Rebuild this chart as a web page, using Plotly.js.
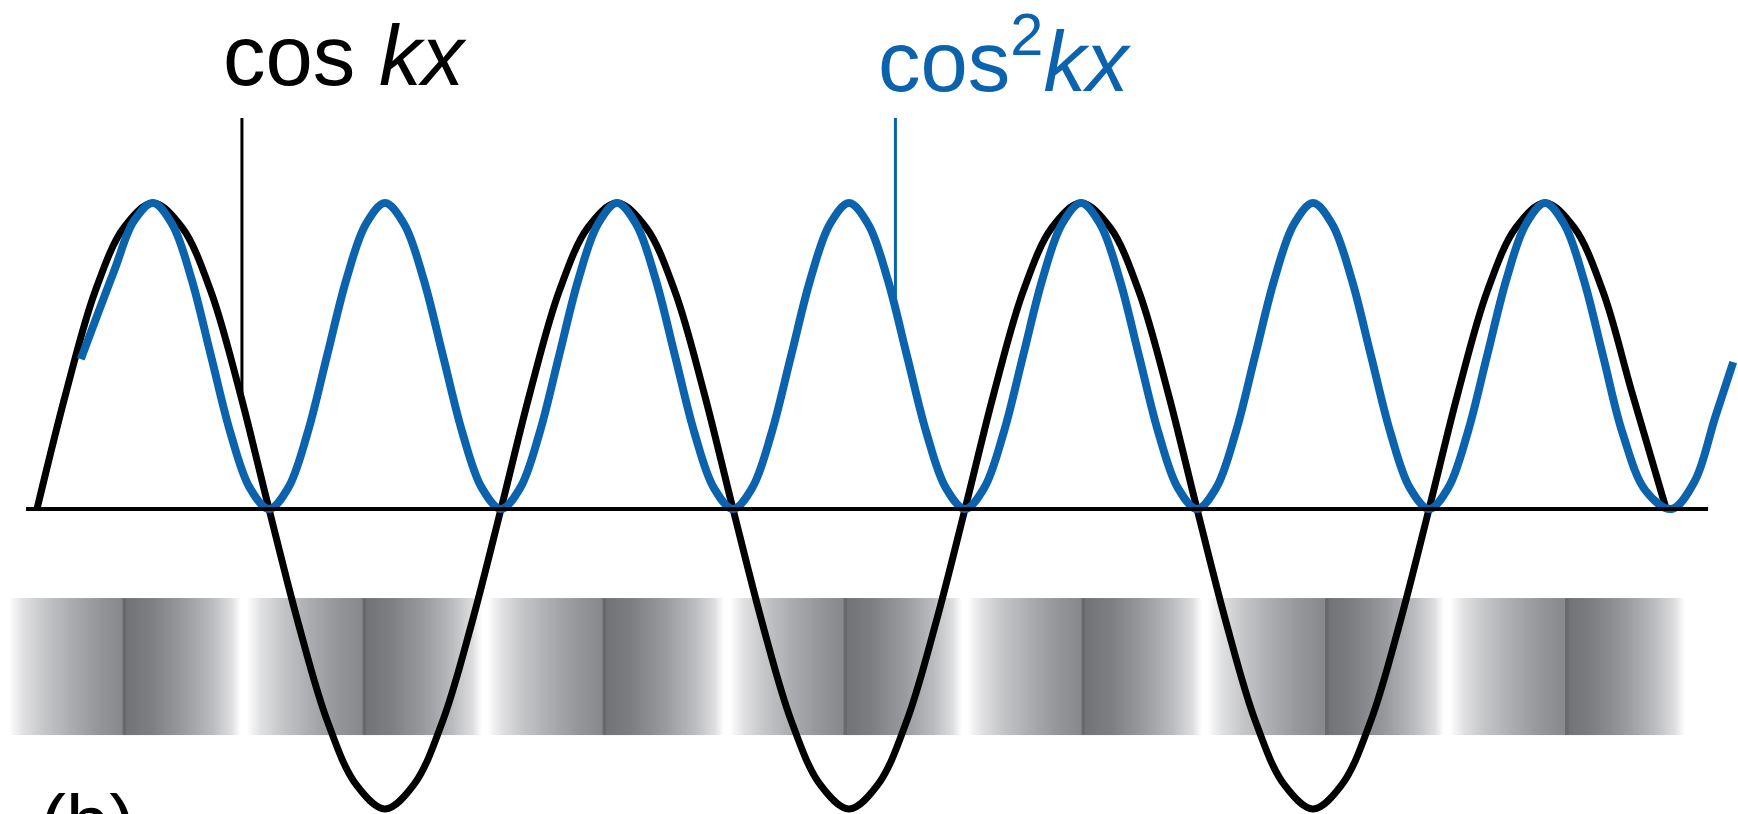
<!DOCTYPE html>
<html>
<head>
<meta charset="utf-8">
<script src="https://cdn.plot.ly/plotly-3.0.1.min.js"></script>
<style>
  html, body { margin: 0; padding: 0; background: #ffffff; }
  #chart { width: 1738px; height: 814px; }
</style>
</head>
<body>
<div id="chart"></div>
<script>
// ---- data (phase kx in degrees, amplitude in units of the cos peak) ----
const cosX = [
  -90, -67.5, -45, -22.5, 0, 22.5, 45, 67.5, 90, 112.5, 135, 157.5, 180, 202.5, 225, 247.5,
  270, 292.5, 315, 337.5, 360, 382.5, 405, 427.5, 450, 472.5, 495, 517.5, 540, 562.5, 585, 607.5,
  630, 652.5, 675, 697.5, 720, 742.5, 765, 787.5, 810, 832.5, 855, 877.5, 900, 922.5, 945, 967.5,
  990, 1012.5, 1035, 1057.5, 1080, 1102.5, 1125, 1147.5, 1174];
const cosY = [
  0, 0.38, 0.71, 0.92, 1, 0.92, 0.71, 0.38, 0, -0.37, -0.69, -0.9, -0.98, -0.9, -0.69, -0.37,
  0, 0.38, 0.71, 0.92, 1, 0.92, 0.71, 0.38, 0, -0.37, -0.69, -0.9, -0.98, -0.9, -0.69, -0.37,
  0, 0.38, 0.71, 0.92, 1, 0.92, 0.71, 0.38, 0, -0.37, -0.69, -0.9, -0.98, -0.9, -0.69, -0.37,
  0, 0.38, 0.71, 0.92, 1, 0.92, 0.71, 0.38, 0];

const cos2X = [-56, -30, -15,
  0, 15, 30, 45, 60, 75, 90, 105, 120, 135, 150, 165,
  180, 195, 210, 225, 240, 255, 270, 285, 300, 315, 330, 345,
  360, 375, 390, 405, 420, 435, 450, 465, 480, 495, 510, 525,
  540, 555, 570, 585, 600, 615, 630, 645, 660, 675, 690, 705,
  720, 735, 750, 765, 780, 795, 810, 825, 840, 855, 870, 885,
  900, 915, 930, 945, 960, 975, 990, 1005, 1020, 1035, 1050, 1065,
  1080, 1095, 1110, 1125, 1140,
  1158, 1178, 1196, 1212, 1226];
const cos2Y = [0.49, 0.78, 0.94,
  1, 0.93, 0.75, 0.5, 0.25, 0.07, 0, 0.07, 0.25, 0.5, 0.75, 0.93,
  1, 0.93, 0.75, 0.5, 0.25, 0.07, 0, 0.07, 0.25, 0.5, 0.75, 0.93,
  1, 0.93, 0.75, 0.5, 0.25, 0.07, 0, 0.07, 0.25, 0.5, 0.75, 0.93,
  1, 0.93, 0.75, 0.5, 0.25, 0.07, 0, 0.07, 0.25, 0.5, 0.75, 0.93,
  1, 0.93, 0.75, 0.5, 0.25, 0.07, 0, 0.07, 0.25, 0.5, 0.75, 0.93,
  1, 0.93, 0.75, 0.5, 0.25, 0.07, 0, 0.07, 0.25, 0.5, 0.75, 0.93,
  1, 0.93, 0.75, 0.5, 0.25,
  0.06, 0, 0.09, 0.3, 0.48];

// intensity band: white gaps and dark edges (kx degrees)
const bandWhites = [-114, 69.8, 256.8, 444.6, 629.2, 815.4, 1003.2, 1189.4];
const bandDarks  = [-22.5, 163.7, 349.9, 536.9, 721.5, 910.1, 1096.3];
// shading profile (0 = white, 1 = darkest) read along one lobe
const riseFrac  = [0.12, 0.3, 0.55, 0.8];
const riseShade = [0.2, 0.38, 0.56, 0.71];
const edgeShade = [0.79, 1.0, 1.0, 0.93];
const fallFrac  = [0.2, 0.5, 0.75, 0.92];
const fallShade = [0.86, 0.67, 0.45, 0.22];

// labels
const labelCos  = 'cos <i>kx</i>';
const labelCos2 = 'cos<sup>2</sup><i>kx</i>';
const labelPanel = '(b)';

// ---- build band table ----
const PX = 1 / 1.2889;        // degrees per screen pixel
const bx = [], bz = [];
function push(x, z) { bx.push(x); bz.push(z); }
for (let i = 0; i < bandDarks.length; i++) {
  const W0 = bandWhites[i], D = bandDarks[i], W1 = bandWhites[i + 1];
  if (i === 0) { push(W0, 0); push(W0 + 2 * PX, 0); }
  else { push(W0 + 3 * PX, 0); }
  const r0 = W0 + 3 * PX, r1 = D - 2.5 * PX;
  riseFrac.forEach((f, k) => push(r0 + f * (r1 - r0), riseShade[k]));
  push(D - 2.5 * PX, edgeShade[0]);
  push(D - 1 * PX, edgeShade[1]);
  push(D + 1 * PX, edgeShade[2]);
  push(D + 2.5 * PX, edgeShade[3]);
  const f0 = D + 2.5 * PX, f1 = W1 - 3 * PX;
  fallFrac.forEach((f, k) => push(f0 + f * (f1 - f0), fallShade[k]));
  if (i === bandDarks.length - 1) { push(W1 - 2 * PX, 0); push(W1, 0); }
  else { push(W1 - 3 * PX, 0); }
}

const bandBottom = -0.739, bandTop = -0.291;

const traces = [
  {
    type: 'heatmap',
    x: bx,
    y: [bandBottom, (bandBottom + bandTop) / 2, bandTop],
    z: [bz, bz],
    zmin: 0, zmax: 1,
    zsmooth: 'best',
    colorscale: [[0, '#ffffff'], [0.5, '#b4b5b8'], [1, '#68696d']],
    showscale: false,
    hoverinfo: 'skip'
  },
  {
    type: 'scatter', mode: 'lines',
    x: cosX, y: cosY,
    line: { color: '#000000', width: 7, shape: 'spline', smoothing: 1, simplify: false },
    hoverinfo: 'skip'
  },
  {
    type: 'scatter', mode: 'lines',
    x: cos2X, y: cos2Y,
    line: { color: '#0b62ad', width: 8, shape: 'spline', smoothing: 1, simplify: false },
    hoverinfo: 'skip'
  }
];

const font = 'Liberation Sans, Arial, Helvetica, sans-serif';

const layout = {
  width: 1738, height: 814,
  margin: { l: 0, r: 0, t: 0, b: 0, pad: 0 },
  paper_bgcolor: '#ffffff', plot_bgcolor: '#ffffff',
  showlegend: false,
  xaxis: { range: [-118.7, 1229.7], visible: false, fixedrange: true },
  yaxis: { range: [-0.9967, 1.6634], visible: false, fixedrange: true },
  shapes: [
    { type: 'line', layer: 'above', xref: 'x', yref: 'y',
      x0: -98.5, x1: 1206.5, y0: 0, y1: 0,
      line: { color: '#000000', width: 4 } },
    { type: 'line', layer: 'above', xref: 'x', yref: 'y',
      x0: 69, x1: 69, y0: 0.36, y1: 1.278,
      line: { color: '#000000', width: 3 } },
    { type: 'line', layer: 'above', xref: 'x', yref: 'y',
      x0: 576, x1: 576, y0: 0.66, y1: 1.278,
      line: { color: '#0b62ad', width: 3 } }
  ],
  annotations: [
    { text: labelCos, xref: 'paper', yref: 'paper', x: 344 / 1738, y: 0.932,
      xanchor: 'center', yanchor: 'middle', showarrow: false,
      font: { family: font, size: 85, color: '#000000' } },
    { text: labelCos2, xref: 'paper', yref: 'paper', x: 1004 / 1738, y: 0.932,
      xanchor: 'center', yanchor: 'middle', showarrow: false,
      font: { family: font, size: 85, color: '#0b62ad' } },
    { text: labelPanel, xref: 'paper', yref: 'paper', x: 38 / 1738, y: -0.011,
      xanchor: 'left', yanchor: 'middle', showarrow: false,
      font: { family: font, size: 78, color: '#000000' } }
  ]
};

Plotly.newPlot('chart', traces, layout, { displayModeBar: false, staticPlot: true });
</script>
</body>
</html>
